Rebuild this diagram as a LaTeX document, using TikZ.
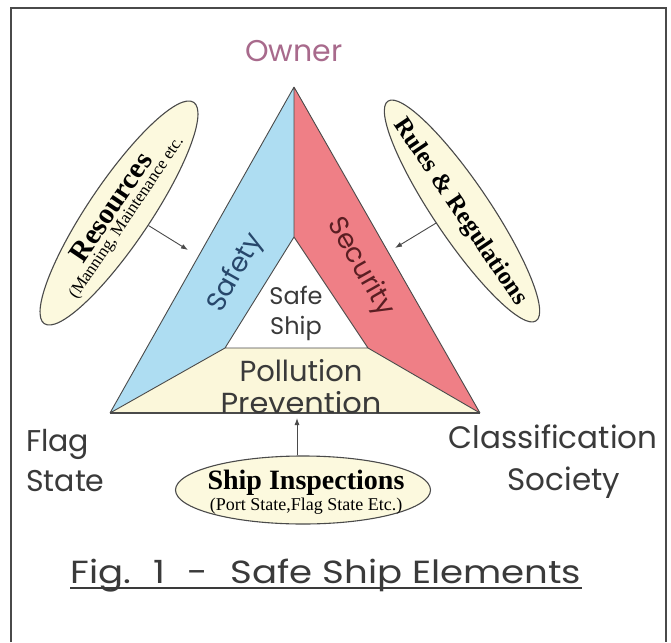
\documentclass[tikz,border=0pt]{standalone}
\usepackage{fontspec}
\setmainfont{Liberation Serif}
\newfontfamily\gothic{Poppins}
\usetikzlibrary{shapes.geometric,arrows.meta}
\definecolor{bluefill}{HTML}{AEDDF2}
\definecolor{redfill}{HTML}{EF7F86}
\definecolor{cream}{HTML}{FBF7DA}
\definecolor{ellfill}{HTML}{FCF9DE}
\definecolor{edge}{HTML}{4A4A4A}
\definecolor{txt}{HTML}{3A3A3A}
\definecolor{ownerc}{HTML}{A86A8C}
\definecolor{safetyc}{HTML}{27476B}
\definecolor{securc}{HTML}{5A1E22}
\begin{document}
\begin{tikzpicture}[x=1pt,y=-1pt,
  bubble/.style={ellipse, draw=edge, fill=ellfill, line width=1.1pt, inner sep=0pt},
  gtxt/.style={text=txt, inner sep=0pt, align=center},
  feed/.style={-{Latex[length=7pt,width=5pt]}, draw=edge, line width=0.9pt},
  gsize/.style={font=\gothic\fontsize{#1}{#1}\selectfont},
]
\useasboundingbox (0,0) rectangle (671,642);
\fill[white] (0,0) rectangle (671,642);
\draw[line width=1.6pt, edge] (11,642) -- (11,8) -- (666,8) -- (666,642);

% triangle corners
\coordinate (A) at (294,87);
\coordinate (BL) at (110,413);
\coordinate (BR) at (480,413);
\coordinate (M) at (294,237);
\coordinate (IL) at (225,348);
\coordinate (IR) at (368,348);

\fill[bluefill] (A) -- (BL) -- (IL) -- (M) -- cycle;
\fill[redfill] (A) -- (M) -- (IR) -- (BR) -- cycle;
\fill[cream] (BL) -- (IL) -- (IR) -- (BR) -- cycle;
\draw[edge, line width=0.9pt, line join=round] (A) -- (BL) (A) -- (BR) (A) -- (M) -- (IL) -- (BL) (M) -- (IR) -- (BR) (IL) -- (IR);
\draw[edge, line width=1.6pt] (BL) -- (BR);

% labels on the triangle
\node[gtxt, gsize=30, text=ownerc, anchor=base] (owner) at (294,62) {Owner};
\node[gtxt, gsize=27, text=safetyc, rotate=60.6] (safety) at (236,273) {Safety};
\node[gtxt, gsize=27, text=securc, rotate=-60.3] (security) at (360,267) {Security};
\node[gtxt, font=\gothic\fontsize{24}{30}\selectfont] (safeship) at (296,313) {Safe\\Ship};
\node[gtxt, font=\gothic\fontsize{29}{32}\selectfont] (pollution) at (301,387) {Pollution\\\scalebox{1.05}[1]{Prevention}};
\node[gtxt, align=left, anchor=west, font=\gothic\fontsize{30}{40}\selectfont] (flag) at (26,461) {Flag\\State};
\node[gtxt, font=\gothic\fontsize{31}{42}\selectfont] (class) at (553,462) {Classification\\\hspace*{22pt}Society};

% ellipses
\node[bubble, rotate=56, minimum width=267pt, minimum height=62pt] (res) at (119,213) {};
\node[inner sep=0pt, align=center, rotate=56] (restext) at (118,212)
  {{\bfseries\fontsize{29}{29}\selectfont Resources}\\[1pt]{\fontsize{17}{17}\selectfont (Manning, Maintenance etc.}};
\node[bubble, rotate=-56, minimum width=265pt, minimum height=56pt] (rules) at (462,211) {};
\node[inner sep=0pt, rotate=-56, font=\bfseries\fontsize{25}{25}\selectfont] (rulestext) at (460,212) {Rules \& Regulations};
\node[bubble, minimum width=255pt, minimum height=68pt] (insp) at (303,490) {};
\node[inner sep=0pt, align=center] (insptext) at (306,492)
  {{\bfseries\fontsize{28}{28}\selectfont Ship Inspections}\\[1pt]{\fontsize{18}{18}\selectfont (Port State,Flag State Etc.)}};

% arrows
\coordinate (tipR) at (188,250);
\coordinate (tipS) at (395,248);
\coordinate (tipI) at (297,418);
\draw[feed] (res.-79) -- (tipR);
\draw[feed] (rules.261) -- (tipS);
\draw[feed] (insp.north -| tipI) -- (tipI);

% title
\node[gtxt, inner sep=0pt, anchor=base, font=\gothic\fontsize{32}{32}\selectfont] (title) at (326,583)
  {\scalebox{1.16}[1]{Fig.\hspace{0.6em}1\hspace{0.6em}-\hspace{0.6em}Safe Ship Elements}};
\draw[txt, line width=1.6pt] ([yshift=-5pt]title.base west) -- ([yshift=-5pt]title.base east);
\end{tikzpicture}
\end{document}
